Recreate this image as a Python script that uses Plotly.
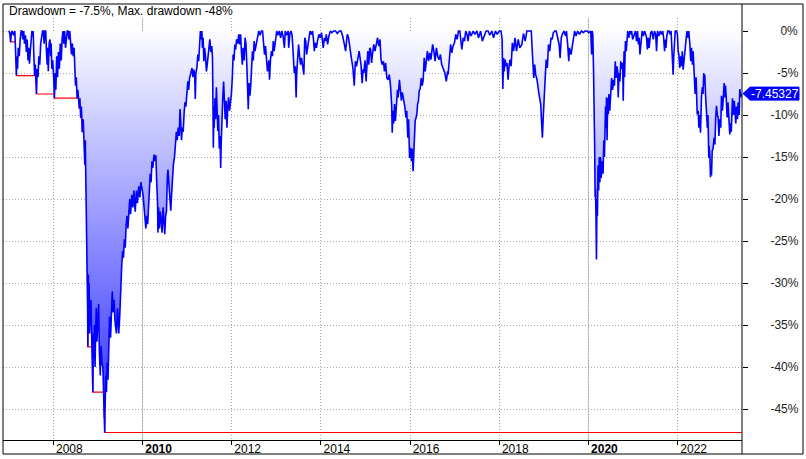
import numpy as np
import plotly.graph_objects as go

# ---- drawdown readings (month-day, drawdown %) per year ----
dd_2007 = [("01-02", 0), ("01-10", -0.3), ("01-16", -1.3), ("01-22", -0.2), ("01-30", 0), ("02-08", -0.5),
           ("02-20", 0), ("02-27", -3.6), ("03-05", -5.3), ("03-08", -3.0), ("03-14", -4.5), ("03-20", -2.0),
           ("03-28", -3.0), ("04-05", -1.0), ("04-12", 0), ("04-20", 0), ("04-27", -1.0), ("05-04", 0),
           ("05-10", -1.5), ("05-18", -0.5), ("05-25", -2.5), ("06-01", -1.0), ("06-08", -3.5), ("06-14", -2.0),
           ("06-20", -3.9), ("06-26", -2.5), ("07-03", -1.0), ("07-10", 0), ("07-17", -0.5), ("07-20", 0),
           ("07-26", -3.0), ("08-01", -5.3), ("08-06", -4.0), ("08-10", -6.0), ("08-16", -7.5), ("08-22", -4.5),
           ("08-29", -5.5), ("09-05", -3.0), ("09-12", -4.0), ("09-20", -1.5), ("09-28", -0.5), ("10-05", 0),
           ("10-12", 0), ("10-18", -1.5), ("10-24", 0), ("10-31", 0), ("11-06", -2.5), ("11-12", -4.0),
           ("11-16", -2.0), ("11-21", -4.8), ("11-28", -1.5), ("12-05", -1.0), ("12-11", -3.0), ("12-14", -1.5),
           ("12-20", -4.5), ("12-27", -3.5)]
dd_2008 = [("01-04", -5.5), ("01-07", -6.9), ("01-10", -8.0), ("01-16", -5.0), ("01-22", -7.0), ("01-29", -3.0),
           ("02-05", -5.5), ("02-12", -2.5), ("02-20", -4.5), ("02-27", -1.5), ("03-06", -3.5), ("03-13", -1.0),
           ("03-20", 0), ("03-27", -1.5), ("04-03", 0), ("04-10", -2.0), ("04-17", -0.5), ("04-24", 0),
           ("05-01", 0), ("05-08", -1.0), ("05-15", 0), ("05-22", -1.0), ("05-29", -2.8), ("06-05", -1.5),
           ("06-12", -3.0), ("06-19", -2.0), ("06-25", -4.5), ("07-01", -6.5), ("07-07", -5.5), ("07-14", -8.0),
           ("07-20", -7.0), ("07-28", -8.5), ("08-01", -9.2), ("08-06", -8.0), ("08-12", -10.3), ("08-18", -9.0),
           ("08-25", -12.0), ("09-02", -10.5), ("09-08", -12.7), ("09-15", -15.9), ("09-19", -13.0),
           ("09-26", -18.7), ("10-02", -25.0), ("10-06", -30.0), ("10-08", -33.0), ("10-10", -37.6),
           ("10-14", -29.0), ("10-16", -34.5), ("10-20", -30.0), ("10-24", -36.0), ("10-28", -33.0),
           ("11-04", -32.0), ("11-10", -36.0), ("11-14", -37.0), ("11-20", -43.0), ("11-24", -36.0),
           ("11-28", -39.0), ("12-03", -35.0), ("12-08", -40.0), ("12-12", -36.5), ("12-18", -33.0),
           ("12-23", -37.0), ("12-30", -34.5)]
dd_2009 = [("01-06", -32.5), ("01-12", -38.0), ("01-20", -41.0), ("01-26", -37.5), ("02-02", -39.5),
           ("02-10", -40.0), ("02-17", -43.0), ("02-20", -46.0), ("02-25", -47.8), ("03-02", -43.5),
           ("03-06", -41.0), ("03-11", -43.0), ("03-17", -39.5), ("03-24", -41.5), ("03-31", -37.5),
           ("04-06", -34.0), ("04-14", -36.5), ("04-21", -33.0), ("04-28", -31.0), ("05-06", -33.5),
           ("05-13", -32.0), ("05-20", -34.5), ("06-01", -36.0), ("06-10", -33.0), ("06-20", -36.0),
           ("06-28", -34.0), ("07-06", -30.0), ("07-15", -27.8), ("07-22", -26.2), ("07-29", -27.0),
           ("08-05", -24.8), ("08-12", -25.8), ("08-20", -23.0), ("08-27", -22.0), ("09-03", -23.5),
           ("09-10", -21.5), ("09-18", -20.0), ("09-25", -21.8), ("10-05", -19.5), ("10-14", -21.0),
           ("10-22", -19.0), ("11-02", -21.5), ("11-12", -19.0), ("11-20", -20.5), ("12-01", -18.5),
           ("12-10", -19.8), ("12-18", -18.0)]
dd_2010 = [("01-05", -19.5), ("01-12", -21.0), ("01-20", -22.5), ("01-28", -23.5), ("02-05", -22.0),
           ("02-12", -23.0), ("02-19", -21.0), ("02-26", -19.0), ("03-05", -17.0), ("03-12", -18.0),
           ("03-19", -15.5), ("03-26", -16.3), ("04-05", -14.7), ("04-12", -15.5), ("04-20", -14.8),
           ("04-27", -18.0), ("05-04", -20.5), ("05-07", -24.0), ("05-12", -21.0), ("05-20", -23.5),
           ("05-27", -21.5), ("06-03", -22.5), ("06-10", -24.0), ("06-18", -21.0), ("06-25", -23.0),
           ("07-02", -24.2), ("07-09", -22.0), ("07-16", -21.5), ("07-23", -17.5), ("07-28", -16.5),
           ("08-04", -18.0), ("08-12", -20.0), ("08-20", -21.4), ("08-27", -19.5), ("09-03", -17.0),
           ("09-10", -16.0), ("09-20", -15.0), ("09-27", -13.5), ("10-05", -12.0), ("10-12", -13.0),
           ("10-20", -11.5), ("10-28", -12.5), ("11-04", -9.3), ("11-10", -11.0), ("11-16", -13.0),
           ("11-23", -11.5), ("11-30", -12.0), ("12-07", -9.9), ("12-14", -8.5), ("12-22", -9.0),
           ("12-30", -7.5)]
dd_2011 = [("01-07", -6.0), ("01-14", -7.0), ("01-21", -5.6), ("02-01", -5.0), ("02-10", -4.4), ("02-18", -5.5),
           ("02-25", -4.6), ("03-04", -5.2), ("03-09", -8.1), ("03-14", -5.0), ("03-22", -4.4), ("03-30", -2.8),
           ("04-06", -3.6), ("04-14", -1.5), ("04-20", 0), ("04-26", -1.0), ("05-02", 0), ("05-06", -2.0),
           ("05-12", -0.8), ("05-18", -3.6), ("05-24", -2.0), ("06-01", -3.0), ("06-08", -4.8), ("06-15", -4.0),
           ("06-22", -2.8), ("06-29", -1.6), ("07-06", -1.0), ("07-14", -2.5), ("07-22", -1.8), ("07-28", -3.2),
           ("08-04", -13.9), ("08-08", -9.0), ("08-11", -11.5), ("08-17", -8.0), ("08-22", -10.5),
           ("08-29", -6.7), ("09-02", -9.0), ("09-09", -11.9), ("09-15", -10.0), ("09-22", -14.0),
           ("09-28", -12.5), ("10-03", -16.3), ("10-07", -13.5), ("10-14", -9.5), ("10-20", -8.0),
           ("10-27", -6.0), ("11-02", -9.0), ("11-09", -10.5), ("11-16", -8.3), ("11-23", -11.5),
           ("11-30", -9.0), ("12-07", -7.9), ("12-14", -9.5), ("12-21", -8.5), ("12-30", -7.5)]
dd_2012 = [("01-06", -5.6), ("01-13", -2.8), ("01-20", -3.5), ("01-27", -1.6), ("02-03", -2.2), ("02-10", -1.0),
           ("02-20", -1.5), ("02-28", -0.4), ("03-06", -1.6), ("03-14", -0.4), ("03-21", -2.5), ("03-28", -4.0),
           ("04-04", -2.0), ("04-12", -3.5), ("04-20", -0.8), ("04-27", -1.5), ("05-04", -4.0), ("05-10", -6.5),
           ("05-16", -9.3), ("05-22", -6.2), ("05-30", -7.7), ("06-05", -6.5), ("06-12", -4.2), ("06-19", -2.4),
           ("06-26", -3.5), ("07-03", -1.2), ("07-10", -2.4), ("07-20", -1.5), ("08-10", 0), ("08-20", -0.5),
           ("08-31", 0), ("09-10", 0), ("09-17", -1.4), ("09-26", -2.8), ("10-04", -1.8), ("10-12", -3.2),
           ("10-20", -4.8), ("11-01", -3.5), ("11-06", -5.8), ("11-14", -3.4), ("11-22", -2.4), ("11-30", -3.0),
           ("12-07", -1.2), ("12-14", -2.4), ("12-24", -1.5)]
dd_2013 = [("01-04", 0), ("01-15", -0.5), ("01-25", 0), ("02-05", -0.8), ("02-15", 0), ("02-25", -0.6),
           ("03-08", -2.0), ("03-15", 0), ("03-25", -0.5), ("04-08", 0), ("04-12", -2.0), ("04-22", -0.3),
           ("05-01", 0), ("05-10", -0.5), ("05-20", -3.2), ("05-28", -5.0), ("06-05", -4.2), ("06-12", -7.9),
           ("06-17", -5.0), ("06-24", -2.8), ("07-02", -1.6), ("07-10", -3.0), ("07-18", -4.0), ("07-26", -3.2),
           ("08-05", -4.2), ("08-14", -5.2), ("08-22", -0.8), ("08-30", -1.2), ("09-06", -2.8), ("09-14", -2.0),
           ("10-04", 0), ("10-14", -0.4), ("10-24", 0), ("11-01", -1.0), ("11-08", -2.4), ("11-15", -1.4),
           ("11-25", -2.0), ("12-04", -1.2), ("12-16", -0.4), ("12-26", -0.8)]
dd_2014 = [("01-06", -0.2), ("01-20", -2.0), ("01-30", -0.8), ("02-07", -1.2), ("02-14", -0.4), ("02-25", -1.6),
           ("03-07", -0.6), ("03-20", 0), ("04-01", -0.2), ("04-15", 0), ("05-01", 0), ("05-15", -0.3),
           ("06-01", 0), ("06-15", 0), ("06-28", -0.6), ("07-12", -1.6), ("07-22", -2.4), ("08-05", -0.4),
           ("08-15", -0.8), ("09-05", -3.0), ("09-20", -4.4), ("10-01", -6.5), ("10-10", -3.6), ("10-20", -4.2),
           ("11-10", -2.4), ("11-25", -4.0), ("12-05", -6.2), ("12-12", -4.6), ("12-18", -5.0), ("12-29", -3.5)]
dd_2015 = [("01-06", -6.0), ("01-12", -4.4), ("01-20", -2.4), ("01-28", -4.0), ("02-05", -2.0), ("02-12", -2.2),
           ("02-20", -3.8), ("02-27", -2.8), ("03-10", -1.6), ("03-20", -2.4), ("03-30", -1.4), ("04-10", -0.8),
           ("04-20", -1.8), ("04-30", -1.0), ("05-08", -3.4), ("05-18", -4.0), ("05-28", -3.6), ("06-05", -4.8),
           ("06-15", -3.8), ("06-25", -5.6), ("07-05", -5.8), ("07-15", -5.2), ("07-25", -6.5), ("08-04", -9.0),
           ("08-08", -12.1), ("08-14", -9.5), ("08-20", -11.0), ("08-27", -8.7), ("09-03", -10.7),
           ("09-10", -9.2), ("09-20", -7.0), ("09-26", -7.9), ("10-06", -5.8), ("10-14", -7.0), ("10-22", -8.3),
           ("10-30", -7.3), ("11-08", -8.0), ("11-20", -9.1), ("11-28", -10.3), ("12-05", -9.5),
           ("12-14", -12.7), ("12-20", -10.5), ("12-28", -15.1)]
dd_2016 = [("01-05", -13.9), ("01-12", -15.5), ("01-18", -14.0), ("01-26", -16.7), ("02-03", -13.1),
           ("02-12", -10.7), ("02-20", -10.3), ("02-26", -9.8), ("03-03", -8.7), ("03-10", -8.3), ("03-16", -7.1),
           ("03-24", -6.9), ("04-02", -5.6), ("04-10", -6.5), ("04-18", -5.8), ("04-26", -3.2), ("05-04", -4.8),
           ("05-12", -3.8), ("05-22", -2.4), ("06-01", -3.6), ("06-10", -2.6), ("06-20", -3.4), ("07-04", -1.6),
           ("07-14", -2.4), ("07-24", -3.6), ("08-04", -2.0), ("08-14", -3.0), ("08-26", -3.4), ("09-06", -2.8),
           ("09-16", -4.0), ("10-01", -4.5), ("10-12", -5.0), ("10-24", -6.0), ("11-04", -4.8), ("11-08", -5.2),
           ("11-18", -3.2), ("11-28", -1.6), ("12-08", -2.6), ("12-18", -1.8), ("12-30", -1.4)]
dd_2017 = [("01-10", -0.4), ("01-20", -1.0), ("02-01", 0), ("02-12", 0), ("02-28", -2.2), ("03-12", -0.8),
           ("03-22", -1.2), ("04-01", 0), ("04-12", -0.4), ("04-20", -1.2), ("05-01", 0), ("05-15", -0.6),
           ("06-01", 0), ("06-15", -0.4), ("07-01", 0), ("07-15", -0.8), ("08-01", 0), ("08-15", -1.2),
           ("09-01", -0.4), ("09-15", 0), ("10-01", 0), ("10-15", -0.5), ("11-01", 0), ("11-15", -0.8),
           ("12-01", 0), ("12-15", -0.4)]
dd_2018 = [("01-01", 0), ("01-15", 0), ("01-24", -1.0), ("01-30", -6.9), ("02-05", -3.2), ("02-10", -4.8),
           ("02-18", -3.4), ("02-25", -4.2), ("03-05", -3.8), ("03-14", -5.8), ("03-22", -4.2), ("03-30", -3.4),
           ("04-08", -4.2), ("04-18", -1.4), ("04-28", -2.4), ("05-10", -0.8), ("05-22", -2.4), ("06-05", -1.0),
           ("06-18", -2.0), ("07-05", -1.6), ("07-18", -0.3), ("08-01", -1.2), ("08-15", 0), ("09-01", 0),
           ("09-20", 0), ("09-28", -2.4), ("10-04", -3.6), ("10-10", -5.6), ("10-18", -4.0), ("10-26", -5.2),
           ("11-06", -5.8), ("11-12", -6.9), ("11-20", -7.3), ("12-06", -8.7), ("12-12", -9.9),
           ("12-20", -12.7), ("12-27", -10.3)]
dd_2019 = [("01-03", -7.3), ("01-12", -5.6), ("01-20", -3.4), ("01-30", -4.4), ("02-08", -1.6), ("02-18", -2.4),
           ("03-01", -0.8), ("03-10", -1.0), ("03-20", -0.2), ("04-01", 0), ("04-12", 0), ("05-06", -1.6),
           ("05-14", -3.2), ("05-24", -0.8), ("06-01", -0.4), ("06-15", 0), ("06-28", -0.6), ("07-05", 0),
           ("07-15", -1.6), ("07-24", -3.6), ("07-30", -2.0), ("08-12", -2.8), ("08-20", -2.0), ("08-30", -0.8),
           ("09-10", 0), ("09-22", -0.6), ("10-05", 0), ("10-20", -0.4), ("11-05", 0), ("11-20", -0.2),
           ("12-05", 0), ("12-20", 0)]
dd_2020 = [("01-05", -0.2), ("01-20", 0), ("01-27", -2.8), ("01-31", 0), ("02-06", -0.4), ("02-12", -4.6),
           ("02-17", -7.9), ("02-21", -13.5), ("02-25", -19.8), ("02-28", -18.7), ("03-03", -22.0),
           ("03-07", -27.2), ("03-11", -20.0), ("03-15", -22.0), ("03-20", -16.0), ("03-25", -19.0),
           ("03-30", -15.0), ("04-04", -18.0), ("04-09", -15.0), ("04-15", -17.5), ("04-22", -15.5),
           ("04-30", -17.0), ("05-06", -13.0), ("05-11", -15.0), ("05-16", -12.0), ("05-20", -9.0),
           ("05-24", -11.5), ("05-28", -7.9), ("06-02", -13.0), ("06-07", -8.0), ("06-12", -9.9), ("06-17", -7.5),
           ("06-24", -9.5), ("07-02", -7.9), ("07-09", -5.6), ("07-17", -7.0), ("07-25", -5.8), ("08-01", -6.5),
           ("08-08", -3.6), ("08-15", -5.6), ("08-22", -4.2), ("08-28", -4.8), ("09-01", -7.9), ("09-08", -5.0),
           ("09-15", -6.0), ("09-22", -3.6), ("09-30", -4.5), ("10-08", -3.8), ("10-12", -8.3), ("10-19", -2.4),
           ("10-23", -5.5), ("10-30", -1.2), ("11-06", -2.4), ("11-12", -1.2), ("11-18", 0), ("11-28", -0.8),
           ("12-05", 0), ("12-12", -0.4), ("12-20", 0), ("12-28", -1.0)]
dd_2021 = [("01-08", -0.4), ("01-20", 0), ("01-29", -1.2), ("02-06", 0), ("02-14", -1.6), ("02-20", -0.8),
           ("02-26", -2.8), ("03-07", -0.8), ("03-16", 0), ("03-26", -0.6), ("04-05", 0), ("04-15", -0.4),
           ("04-21", -0.8), ("04-28", -2.2), ("05-05", -0.8), ("05-12", -2.0), ("05-18", -1.2), ("05-25", -0.2),
           ("06-04", 0), ("06-15", -1.0), ("06-25", 0), ("07-05", -0.4), ("07-12", -2.4), ("07-20", 0),
           ("08-01", -0.6), ("08-12", 0), ("08-24", -0.4), ("09-01", 0), ("09-08", -0.8), ("09-16", -2.4),
           ("09-21", -1.0), ("09-27", -2.0), ("10-04", -0.6), ("10-12", 0), ("10-22", 0), ("10-30", -0.4),
           ("11-08", 0), ("11-14", -1.6), ("11-25", -5.2), ("11-30", -3.0), ("12-04", -1.0), ("12-12", 0),
           ("12-23", 0), ("12-30", -0.4)]
dd_2022 = [("01-05", -2.4), ("01-11", -2.8), ("01-18", -4.4), ("01-26", -3.0), ("02-02", -4.2), ("02-08", -2.4),
           ("02-15", -4.6), ("02-23", -3.5), ("03-01", -2.0), ("03-10", -0.6), ("03-18", 0), ("03-25", -0.8),
           ("04-02", 0), ("04-11", -1.6), ("04-18", -3.6), ("04-25", -2.0), ("05-02", -4.0), ("05-08", -2.4),
           ("05-16", -4.4), ("05-24", -7.5), ("06-01", -5.5), ("06-06", -8.3), ("06-10", -9.9), ("06-18", -9.5),
           ("06-24", -11.5), ("07-01", -10.0), ("07-07", -12.1), ("07-15", -7.9), ("07-22", -6.7),
           ("07-28", -7.5), ("08-03", -5.0), ("08-08", -6.3), ("08-11", -5.2), ("08-17", -7.5), ("08-26", -9.5),
           ("09-01", -11.5), ("09-06", -10.0), ("09-13", -15.1), ("09-16", -13.7), ("09-22", -15.0),
           ("09-27", -17.4), ("10-01", -16.0), ("10-05", -17.2), ("10-11", -14.3), ("10-19", -13.9),
           ("10-26", -12.7), ("11-02", -13.5), ("11-09", -10.3), ("11-15", -8.9), ("11-22", -10.0),
           ("11-28", -10.3), ("12-05", -12.5), ("12-12", -10.5), ("12-20", -11.5), ("12-26", -7.7)]
dd_2023 = [("01-03", -9.5), ("01-08", -8.0), ("01-17", -6.2), ("01-22", -7.9), ("01-28", -6.5), ("02-03", -8.0),
           ("02-10", -10.3), ("02-17", -8.5), ("02-25", -10.3), ("03-04", -12.3), ("03-10", -11.0),
           ("03-16", -12.0), ("03-26", -8.0), ("04-03", -10.0), ("04-10", -8.3), ("04-22", -11.0),
           ("04-28", -9.0), ("05-06", -10.5), ("05-11", -8.5), ("05-20", -10.0), ("05-25", -6.9),
           ("06-01", -7.9), ("06-08", -7.45327)]

year_blocks = [(2007, dd_2007), (2008, dd_2008), (2009, dd_2009), (2010, dd_2010), (2011, dd_2011),
               (2012, dd_2012), (2013, dd_2013), (2014, dd_2014), (2015, dd_2015), (2016, dd_2016),
               (2017, dd_2017), (2018, dd_2018), (2019, dd_2019), (2020, dd_2020), (2021, dd_2021),
               (2022, dd_2022), (2023, dd_2023)]

tick_years = [2008, 2010, 2012, 2014, 2016, 2018, 2020, 2022]
y_tick_values = [0, -5, -10, -15, -20, -25, -30, -35, -40, -45]
x_range = ["2006-11-15", "2023-06-12"]
y_range = [-48.69, 1.55]

# ---- assemble ----
dates, drawdown = [], []
for yr, pts in year_blocks:
    for md, v in pts:
        dates.append(f"{yr}-{md}")
        drawdown.append(float(v))
drawdown = np.array(drawdown)
max_dd = np.minimum.accumulate(drawdown)
last = drawdown[-1]

tick_vals = [f"{y}-01-01" for y in tick_years]
tick_text = [f"<b>{y}</b>" if y % 10 == 0 else str(y) for y in tick_years]

FS, PS = "\u2007", "\u2008"
y_tick_text = []
for v in y_tick_values:
    nd = len(str(abs(v)))
    pad = FS * (2 - nd) + (PS if v == 0 else "")
    y_tick_text.append(f"{pad}{v}%")

FONT = "Liberation Sans, Arial, sans-serif"
W, H = 806, 459
ML, MR, MT, MB = 3, 64, 18, 19
PW, PH = W - ML - MR, H - MT - MB
GRID = "#a8a8a8"

def px_x(p):
    return (p - ML) / PW

def px_y(p):
    return (H - MB - p) / PH

fig = go.Figure()
fig.add_trace(go.Scatter(
    x=dates, y=max_dd, mode="lines", line=dict(color="#ff0000", width=1.2, shape="hv"),
    hoverinfo="skip", showlegend=False))
fig.add_trace(go.Scatter(
    x=dates, y=drawdown, mode="lines", line=dict(color="#0000ff", width=1.6),
    fill="tozeroy",
    fillgradient=dict(type="vertical", start=float(drawdown.min()), stop=0,
                      colorscale=[[0, "rgb(40,40,255)"], [1, "rgb(252,252,255)"]]),
    showlegend=False))

# solid grid lines on decade years
for y in tick_years:
    if y % 10 == 0:
        fig.add_shape(type="line", xref="x", yref="paper", x0=f"{y}-01-01", x1=f"{y}-01-01",
                      y0=0, y1=1, line=dict(color="#c4c4c4", width=1), layer="below")

# outer frame and right axis line
fig.add_shape(type="rect", xref="paper", yref="paper", x0=px_x(3), x1=px_x(803),
              y0=px_y(454), y1=px_y(4), line=dict(color="black", width=1))
fig.add_shape(type="line", xref="paper", yref="paper", x0=1, x1=1, y0=px_y(454), y1=px_y(4),
              line=dict(color="black", width=1))

# current value flag
fig.add_shape(type="path", xref="paper", yref="y", xsizemode="pixel", ysizemode="pixel",
              xanchor=1, yanchor=float(last),
              path="M 1,0 L 8,6.5 L 57,6.5 L 57,-6.5 L 8,-6.5 Z",
              fillcolor="#0000ff", line=dict(color="#0000ff", width=1))
fig.add_annotation(x=1, xref="paper", y=float(last), yref="y", text=f"{last:.5f}",
                   showarrow=False, xanchor="center", yanchor="middle", xshift=32.5,
                   font=dict(family=FONT, size=12, color="white"))

# title
fig.add_annotation(x=px_x(7), xref="paper", y=px_y(11), yref="paper",
                   text=f"Drawdown = {last:.1f}%, Max. drawdown {drawdown.min():.0f}%",
                   showarrow=False, xanchor="left", yanchor="middle",
                   font=dict(family=FONT, size=12, color="black"))

fig.update_layout(
    width=W, height=H, margin=dict(l=ML, r=MR, t=MT, b=MB, pad=0),
    paper_bgcolor="white", plot_bgcolor="white",
    font=dict(family=FONT, size=12, color="black"),
    showlegend=False,
    xaxis=dict(type="date", range=x_range, tickmode="array", tickvals=tick_vals, ticktext=tick_text,
               showgrid=True, gridcolor=GRID, griddash="1px,2px", gridwidth=1,
               ticks="outside", ticklen=4, tickcolor="black", tickwidth=1,
               showline=True, linecolor="black", linewidth=1,
               ticklabelshift=16, ticklabelstandoff=-6,
               tickfont=dict(family=FONT, size=12, color="black"),
               zeroline=False, automargin=False, fixedrange=True),
    yaxis=dict(side="right", range=y_range, tickmode="array", tickvals=y_tick_values, ticktext=y_tick_text,
               showgrid=True, gridcolor=GRID, griddash="1px,2px", gridwidth=1,
               ticks="outside", ticklen=5, tickcolor="black", tickwidth=1,
               showline=False, zeroline=False, ticklabelstandoff=20,
               tickfont=dict(family=FONT, size=12, color="#222222"),
               automargin=False, fixedrange=True),
)

fig.write_html("out.html", config={"displayModeBar": False},
               post_script="document.body.style.margin='0';document.body.style.padding='0';")
